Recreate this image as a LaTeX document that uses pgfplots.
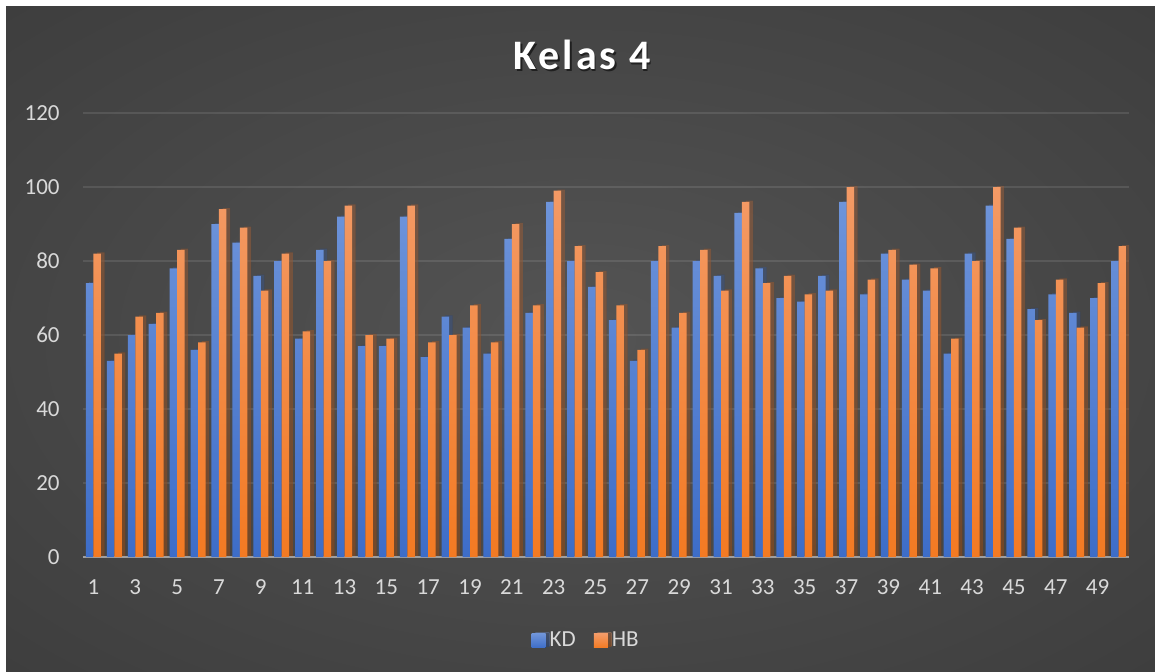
\documentclass[border=0pt]{standalone}
\usepackage{fontspec}
\setmainfont{Carlito}
\usepackage{pgfplots}
\usepackage{pgfplotstable}
\pgfplotsset{compat=1.18}
\usetikzlibrary{shadows}
\definecolor{bgc}{HTML}{545454}
\definecolor{bgm}{HTML}{383838}
\definecolor{bge}{HTML}{242424}
\definecolor{kdtop}{HTML}{6E94DA}
\definecolor{kdbot}{HTML}{3D6DC8}
\definecolor{hbtop}{HTML}{F39A66}
\definecolor{hbbot}{HTML}{F37A22}
\definecolor{lbl}{HTML}{D9D9D9}
\pgfdeclareradialshading{bgshade}{\pgfpoint{0bp}{0bp}}{color(0bp)=(bgc); color(45bp)=(bgm); color(72bp)=(bge)}
\pgfplotstableread{
x kd hb
1 74 82
2 53 55
3 60 65
4 63 66
5 78 83
6 56 58
7 90 94
8 85 89
9 76 72
10 80 82
11 59 61
12 83 80
13 92 95
14 57 60
15 57 59
16 92 95
17 54 58
18 65 60
19 62 68
20 55 58
21 86 90
22 66 68
23 96 99
24 80 84
25 73 77
26 64 68
27 53 56
28 80 84
29 62 66
30 80 83
31 76 72
32 93 96
33 78 74
34 70 76
35 69 71
36 76 72
37 96 100
38 71 75
39 82 83
40 75 79
41 72 78
42 55 59
43 82 80
44 95 100
45 86 89
46 67 64
47 71 75
48 66 62
49 70 74
50 80 84
}\datatable
\begin{document}
\begin{tikzpicture}
\useasboundingbox (0,0) rectangle (577.5pt,335.5pt);
\fill[white] (0,0) rectangle (577.5pt,335.5pt);
\shade[shading=bgshade] (3pt,0) rectangle (577.5pt,332pt);
\node[anchor=base, text=black, opacity=0.55, font=\fontsize{21}{25}\selectfont\bfseries\addfontfeature{LetterSpace=7}] at (291.8pt,299.7pt) {Kelas 4};
\node[anchor=base, text=white, font=\fontsize{21}{25}\selectfont\bfseries\addfontfeature{LetterSpace=7}] at (291pt,300.5pt) {Kelas 4};
\begin{axis}[
  at={(41.5pt,57pt)}, anchor=south west,
  scale only axis, width=523pt, height=222pt,
  xmin=0.5, xmax=50.5, ymin=0, ymax=120,
  axis line style={draw=none},
  major tick length=0pt,
  xtick={1,3,...,49},
  ytick={20,40,...,120},
  extra y ticks={0},
  extra y tick style={grid style={draw=gray!75, line width=1pt, opacity=1}},
  ymajorgrids,
  grid style={draw=white, opacity=0.1, line width=0.8pt},
  /pgf/number format/assume math mode=true,
  ticklabel style={font=\fontsize{11.5}{13}\selectfont, text=lbl, inner sep=0pt},
  xticklabel style={anchor=base, yshift=-18.5pt},
  yticklabel style={anchor=base east, xshift=-11.5pt, yshift=-3.65pt},
  ybar=0pt, bar width=3.75pt,
  legend columns=2,
  legend style={at={(0.482,-0.189)}, anchor=center, draw=none, fill=none,
    font=\fontsize{11.5}{13}\selectfont, text=lbl,
    /tikz/every even column/.append style={column sep=7pt},
    nodes={inner sep=2pt}},
]
\addplot[draw=none, top color=kdtop, bottom color=kdbot,
  drop shadow={shadow xshift=1.8pt, shadow yshift=0.6pt, opacity=0.35, fill=black},
  legend image code/.code={\fill[top color=kdtop, bottom color=kdbot] (0pt,-3.5pt) rectangle (7pt,3.5pt);}]
  table[x=x, y=kd] {\datatable};
\addlegendentry{KD}
\addplot[draw=none, top color=hbtop, bottom color=hbbot,
  drop shadow={shadow xshift=1.8pt, shadow yshift=0.6pt, opacity=0.35, fill=black},
  legend image code/.code={\fill[top color=hbtop, bottom color=hbbot] (0pt,-3.5pt) rectangle (7pt,3.5pt);}]
  table[x=x, y=hb] {\datatable};
\addlegendentry{HB}
\end{axis}
\end{tikzpicture}
\end{document}
